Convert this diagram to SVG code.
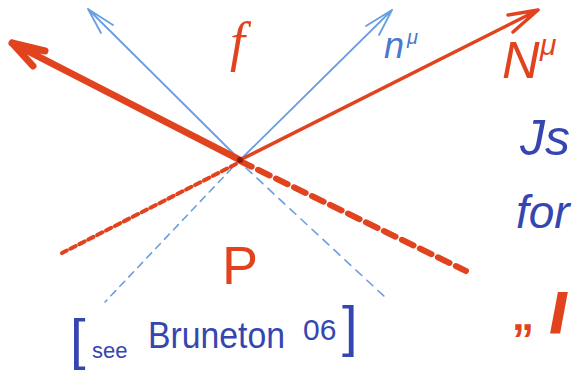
<svg xmlns="http://www.w3.org/2000/svg" width="580" height="370" viewBox="0 0 580 370">
<style>
.red{stroke:#e2431f;fill:none;stroke-linecap:round;stroke-linejoin:round}
.blue{stroke:#6a9ee0;fill:none;stroke-linecap:round;stroke-linejoin:round}
.tr{fill:#e2431f;font-family:"Liberation Sans",sans-serif}
.tb{fill:#3546b0;font-family:"Liberation Sans",sans-serif}
.ts{fill:#e2431f;font-family:"Liberation Serif",serif;font-style:italic}
.ti{font-style:italic}
</style>
<rect width="580" height="370" fill="#ffffff"/>
<g id="connectors">
  <line class="blue" x1="232" y1="168" x2="105" y2="302" stroke-width="1.6" stroke-dasharray="7 6"/>
  <line class="blue" x1="246" y1="168" x2="386" y2="298" stroke-width="1.6" stroke-dasharray="8 7"/>
  <line class="red" x1="236" y1="164" x2="62" y2="253" stroke-width="4" stroke-dasharray="6 4" stroke-linecap="butt"/>
  <path class="red" d="M240 161 L466 271" stroke-width="6" stroke-dasharray="13 7" stroke-linecap="butt"/>
  <path class="blue" d="M240 160 L88 9 M88 9 L113 25 M88 9 L101 33" stroke-width="1.8"/>
  <path class="blue" d="M240 160 L392 10 M392 10 L366 26 M392 10 L379 35" stroke-width="1.8"/>
  <path class="red" d="M240 160 L12 43 M12 43 L45 51 M12 43 L33 66" stroke-width="7"/>
  <path class="red" d="M240 160 L538 10 M538 10 L508 15 M538 10 L513 32" stroke-width="3.5"/>
  <circle cx="240" cy="160" r="3" fill="#8a1a10"/>
</g>
<g id="label-f"><text class="ts" x="230" y="60" font-size="54">f</text></g>
<g id="label-n"><text class="tb ti" x="384" y="58" font-size="36" style="fill:#4a78d0">n</text><text class="tb ti" x="407" y="44" font-size="20" style="fill:#4a78d0">μ</text></g>
<g id="label-N"><text class="tr ti" x="502" y="78" font-size="52">N</text><text class="tr ti" x="540" y="55" font-size="30">μ</text></g>
<g id="label-P"><text class="tr" x="222" y="284" font-size="54">P</text></g>
<g id="label-right">
  <text class="tb ti" x="520" y="155" font-size="50">Js</text>
  <text class="tb ti" x="516" y="228" font-size="46">for</text>
  <text class="tr" x="512" y="330" font-size="44" font-weight="bold">„</text>
  <text class="tr" x="552" y="330" font-size="50" font-weight="bold" stroke="#e2431f" stroke-width="4">/</text>
</g>
<g id="label-ref">
  <text class="tb" x="70" y="358" font-size="56">[</text>
  <text class="tb" x="92" y="358" font-size="22">see</text>
  <text class="tb" x="148" y="348" font-size="36" textLength="137" lengthAdjust="spacingAndGlyphs">Bruneton</text>
  <text class="tb" x="303" y="340" font-size="30">06</text>
  <text class="tb" x="342" y="345" font-size="56">]</text>
</g>
</svg>
